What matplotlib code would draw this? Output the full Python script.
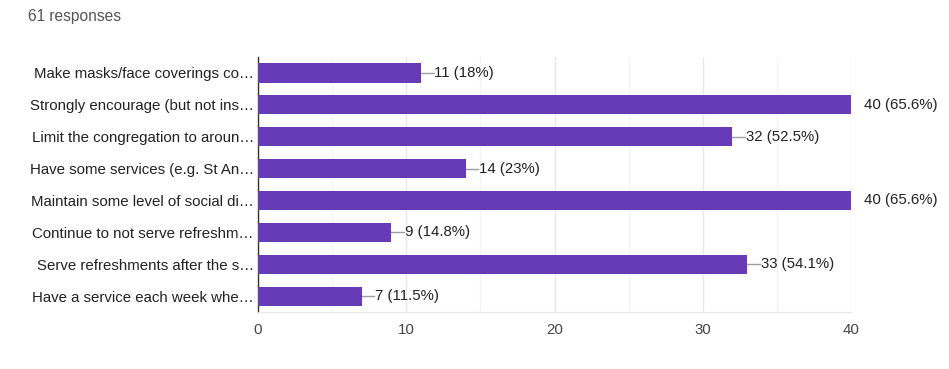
import matplotlib
matplotlib.use("Agg")
import matplotlib.pyplot as plt

categories = [
    "Make masks/face coverings co…",
    "Strongly encourage (but not ins…",
    "Limit the congregation to aroun…",
    "Have some services (e.g. St An…",
    "Maintain some level of social di…",
    "Continue to not serve refreshm…",
    "Serve refreshments after the s…",
    "Have a service each week whe…",
]
counts = [11, 40, 32, 14, 40, 9, 33, 7]
percents = ["18%", "65.6%", "52.5%", "23%", "65.6%", "14.8%", "54.1%", "11.5%"]
xticks = [0, 10, 20, 30, 40]
title = "61 responses"

plt.rcParams['font.family'] = ['Liberation Sans', 'DejaVu Sans']
FS = 10.8

fig = plt.figure(figsize=(9.49, 3.69), dpi=100)
ax = fig.add_axes([258/949, 1-312/369, (851-258)/949, (312-57)/369])

ypos = list(range(len(categories)))
ax.barh(ypos, counts, height=0.6, color="#673ab7", zorder=3)

for y, c, p in zip(ypos, counts, percents):
    ax.plot([c, c + 0.85], [y, y], color="#9e9e9e", lw=1, zorder=2, clip_on=True)
    ax.text(c + 0.9, y, f"{c} ({p})", va="center", ha="left",
            fontsize=FS, color="#222222", clip_on=False)

ax.set_xlim(0, 40)
ax.set_ylim(len(categories) - 0.5, -0.5)
ax.set_yticks(ypos)
ax.set_yticklabels(categories, fontsize=FS, color="#222222")
ax.set_xticks(xticks)
ax.set_xticklabels([str(t) for t in xticks], fontsize=FS, color="#444444")
ax.set_xticks([5, 15, 25, 35], minor=True)
ax.tick_params(axis='both', which='both', length=0)
ax.tick_params(axis='y', pad=3)
ax.tick_params(axis='x', pad=8)

ax.grid(axis='x', which='major', color="#e8e8e8", lw=1, zorder=0)
ax.grid(axis='x', which='minor', color="#f4f4f4", lw=1, zorder=0)

for s in ["top", "right"]:
    ax.spines[s].set_visible(False)
ax.spines["bottom"].set_color("#e8e8e8")
ax.spines["left"].set_color("#333333")
ax.spines["left"].set_linewidth(1)

fig.text(28/949, 1-17/369, title, fontsize=11.2, color="#555555", va="center", ha="left")

fig.savefig("out.png", dpi=100, facecolor="white")
